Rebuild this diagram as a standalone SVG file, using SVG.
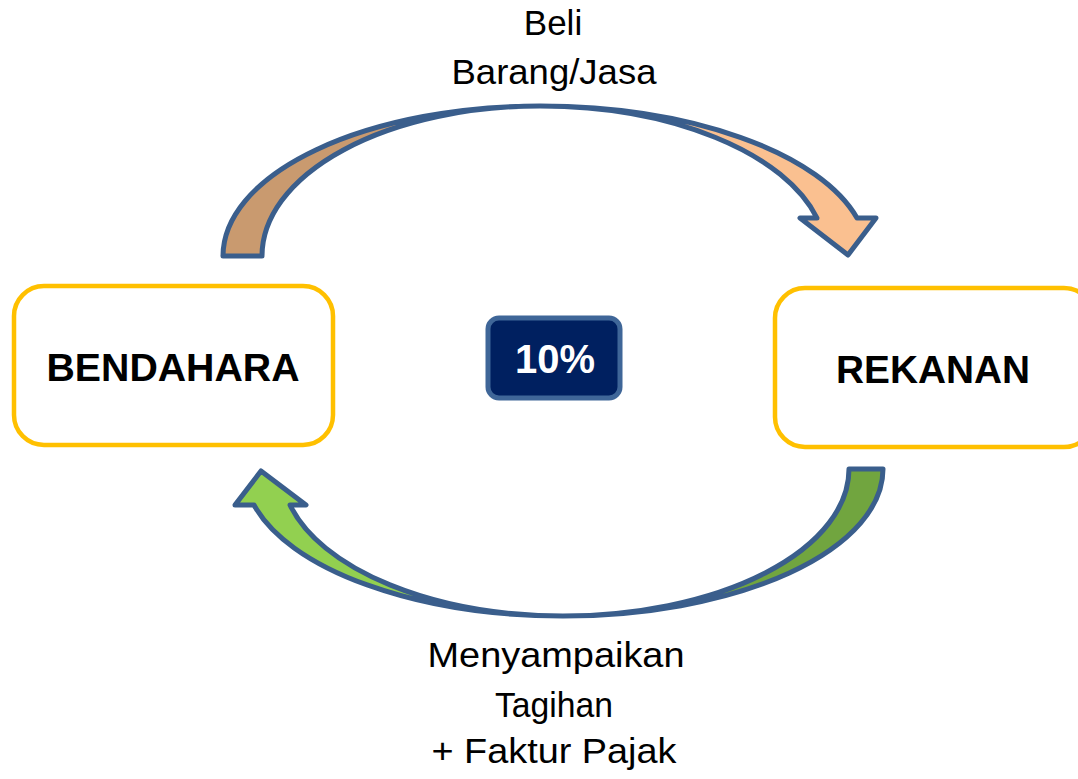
<svg xmlns="http://www.w3.org/2000/svg" width="1078" height="779" viewBox="0 0 1078 779">
  <style>
    .node { fill: #FFFFFF; stroke: #FFC000; stroke-width: 4.5; }
    .nodeText { font-family: "Liberation Sans", Arial, sans-serif; font-weight: bold; font-size: 39px; fill: #000000; text-anchor: middle; }
    .label { font-family: "Liberation Sans", Arial, sans-serif; font-size: 35px; fill: #000000; text-anchor: middle; }
    .outline { fill: none; stroke: #3A5E8C; stroke-width: 5; stroke-linejoin: round; }
  </style>
  <rect x="0" y="0" width="1078" height="779" fill="#FFFFFF"/>

  <g id="connectors">
    <g id="arrow-top">
      <path d="M223,256 A317,150 0 0 1 540,106 A278,150 0 0 0 262,256 Z" fill="#C99A6F"/>
      <path d="M540,106 A328,150 0 0 1 857,218 L876,218 L848,255 L800,218 L817,218 A286,150 0 0 0 540,106 Z" fill="#FAC090"/>
      <path class="outline" d="M223,256 A317,150 0 0 1 540,106 A328,150 0 0 1 857,218 L876,218 L848,255 L800,218 L817,218 A286,150 0 0 0 540,106 A278,150 0 0 0 262,256 Z"/>
    </g>
    <g id="arrow-bottom">
      <path d="M883,469 A320,147 0 0 1 563,616 A286,147 0 0 0 849,469 Z" fill="#71A53F"/>
      <path d="M563,616 A319,147 0 0 1 254,505 L235,505 L261,471 L306,505 L290,505 A282,147 0 0 0 563,616 Z" fill="#92D050"/>
      <path class="outline" d="M883,469 A320,147 0 0 1 563,616 A319,147 0 0 1 254,505 L235,505 L261,471 L306,505 L290,505 A282,147 0 0 0 563,616 A286,147 0 0 0 849,469 Z"/>
    </g>
  </g>

  <g id="label-top">
    <text class="label" x="553" y="35">Beli</text>
    <text class="label" x="554" y="84" textLength="205" lengthAdjust="spacingAndGlyphs">Barang/Jasa</text>
  </g>
  <g id="label-bottom">
    <text class="label" x="556" y="667" textLength="257" lengthAdjust="spacingAndGlyphs">Menyampaikan</text>
    <text class="label" x="554" y="717" textLength="118" lengthAdjust="spacingAndGlyphs">Tagihan</text>
    <text class="label" x="554" y="763" textLength="245" lengthAdjust="spacingAndGlyphs">+ Faktur Pajak</text>
  </g>

  <g id="node-bendahara">
    <rect class="node" x="14" y="286" width="319" height="159" rx="30" ry="30"/>
    <text class="nodeText" x="173" y="381" textLength="253" lengthAdjust="spacingAndGlyphs">BENDAHARA</text>
  </g>

  <g id="node-rekanan">
    <rect class="node" x="775" y="288" width="319" height="159" rx="30" ry="30"/>
    <text class="nodeText" x="933" y="383" textLength="194" lengthAdjust="spacingAndGlyphs">REKANAN</text>
  </g>

  <g id="node-percent">
    <rect x="488" y="318" width="132" height="80" rx="11" ry="11" fill="#002060" stroke="#3F6698" stroke-width="5"/>
    <text x="555" y="373" font-family="Liberation Sans, Arial, sans-serif" font-weight="bold" font-size="40" fill="#FFFFFF" text-anchor="middle" textLength="80" lengthAdjust="spacingAndGlyphs">10%</text>
  </g>
</svg>
